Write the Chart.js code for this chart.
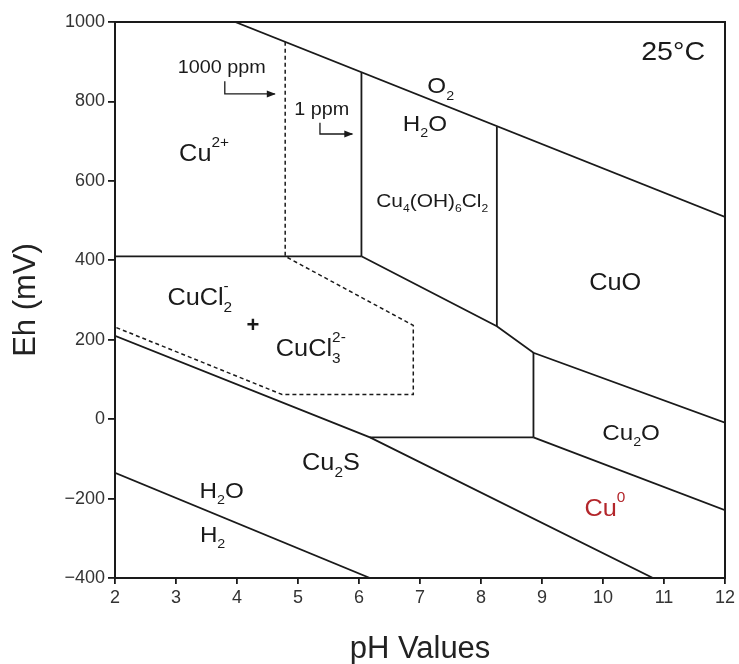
<!DOCTYPE html>
<html>
<head>
<meta charset="utf-8">
<script src="https://cdn.jsdelivr.net/npm/chart.js@4.4.0/dist/chart.umd.min.js"></script>
<style>
  html, body { margin: 0; padding: 0; background: #fff; }
  #wrap { width: 739px; height: 664px; }
</style>
</head>
<body>
<div id="wrap"><canvas id="pourbaix"></canvas></div>
<script>
// Eh-pH diagram, copper at 25 C. Points are [pH, Eh (mV)]

// water stability limits
const o2Line = [[3.97, 1000], [12, 509]];
const h2Line = [[2, -135], [6.18, -400]];

// solid phase boundaries
const cu2Boundary = [[2, 410], [6.04, 410]];
const atacamiteLeft = [[6.04, 410], [6.04, 873]];
const atacamiteRight = [[8.26, 736], [8.26, 234]];
const oxideBoundary = [[6.04, 410], [8.26, 234], [8.86, 167], [12, -9]];
const cu2oLeft = [[8.86, 167], [8.86, -46]];
const sulfideTop = [[6.18, -46], [8.86, -46]];
const cu0Top = [[8.86, -46], [12, -229]];
const sulfideUpper = [[2, 210], [6.18, -46], [10.82, -400]];

// 1000 ppm chloride field (dashed)
const chloride1000 = [[4.79, 950], [4.79, 410], [6.89, 236], [6.89, 62], [4.74, 62], [2, 232]];

// arrows for the concentration notes
const arrow1000 = [[3.80, 851], [3.80, 819], [4.62, 819]];
const arrow1 = [[5.36, 746], [5.36, 718], [5.89, 718]];

// field labels: text, pH, Eh
const fieldLabels = [
  ['1000 ppm', 3.75, 887, 18],
  ['1 ppm', 5.39, 783, 18],
  ['Cu^{2+}', 3.46, 670, 23],
  ['O_2', 7.34, 841, 22],
  ['H_2O', 7.08, 746, 22],
  ['Cu_4(OH)_6Cl_2', 7.20, 552, 19],
  ['25°C', 11.15, 927, 26],
  ['CuO', 10.2, 345, 23],
  ['CuCl_2^-', 3.39, 308, 23],
  ['CuCl_3^{2-}', 5.21, 179, 23],
  ['Cu_2O', 10.46, -32, 22],
  ['Cu_2S', 5.54, -108, 23],
  ['Cu^0', 10.03, -224, 23, '#b3262b'],
  ['H_2O', 3.75, -178, 22],
  ['H_2', 3.6, -289, 22]
];

const xTicks = [2, 3, 4, 5, 6, 7, 8, 9, 10, 11, 12];
const yTicks = [-400, -200, 0, 200, 400, 600, 800, 1000];

const FONT = '"Liberation Sans", Arial, Helvetica, sans-serif';
const INK = '#1a1a1a';

function toPoints(arr) {
  return arr.map(p => ({ x: p[0], y: p[1] }));
}

function lineSet(arr, dashed) {
  return {
    data: toPoints(arr),
    showLine: true,
    borderColor: INK,
    borderWidth: dashed ? 1.5 : 1.8,
    borderDash: dashed ? [4, 3] : [],
    pointRadius: 0,
    fill: false,
    tension: 0
  };
}

// tiny markup: _x subscript, ^x superscript, {..} groups
function parseRich(str) {
  const segs = [];
  let i = 0, buf = '';
  while (i < str.length) {
    const c = str[i];
    if (c === '_' || c === '^') {
      if (buf) { segs.push({ t: buf, k: 'n' }); buf = ''; }
      let tok;
      if (str[i + 1] === '{') {
        const end = str.indexOf('}', i + 2);
        tok = str.slice(i + 2, end);
        i = end + 1;
      } else {
        tok = str[i + 1];
        i += 2;
      }
      segs.push({ t: tok, k: c === '_' ? 'sub' : 'sup' });
    } else {
      buf += c;
      i++;
    }
  }
  if (buf) segs.push({ t: buf, k: 'n' });
  return segs;
}

function drawRich(ctx, str, cx, cy, size, color) {
  const stretch = 1.1;
  const small = Math.round(size * 0.6);
  const segs = parseRich(str);
  const placed = [];
  let x = 0, prevStart = 0, prev = null;
  segs.forEach(s => {
    const fs = s.k === 'n' ? size : small;
    ctx.font = fs + 'px ' + FONT;
    const w = ctx.measureText(s.t).width;
    if (prev && prev.k !== 'n' && s.k !== 'n' && prev.k !== s.k) {
      // stack sub and sup over each other
      placed.push({ t: s.t, k: s.k, x: prevStart, fs: fs });
      x = Math.max(x, prevStart + w);
    } else {
      placed.push({ t: s.t, k: s.k, x: x, fs: fs });
      prevStart = x;
      x += w;
    }
    prev = s;
  });
  ctx.save();
  ctx.translate(cx - x * stretch / 2, cy);
  ctx.scale(stretch, 1);
  ctx.fillStyle = color || INK;
  ctx.textBaseline = 'alphabetic';
  ctx.textAlign = 'left';
  const base = size * 0.36;
  placed.forEach(p => {
    ctx.font = p.fs + 'px ' + FONT;
    let y = base;
    if (p.k === 'sub') y = base + size * 0.3;
    if (p.k === 'sup') y = base - size * 0.62;
    ctx.fillText(p.t, p.x, y);
  });
  ctx.restore();
}

function drawArrow(ctx, xs, ys, pts) {
  const px = pts.map(p => [xs.getPixelForValue(p[0]), ys.getPixelForValue(p[1])]);
  ctx.save();
  ctx.strokeStyle = INK;
  ctx.fillStyle = INK;
  ctx.lineWidth = 1.3;
  ctx.beginPath();
  ctx.moveTo(px[0][0], px[0][1]);
  for (let i = 1; i < px.length; i++) ctx.lineTo(px[i][0], px[i][1]);
  ctx.stroke();
  const a = px[px.length - 2], b = px[px.length - 1];
  const ang = Math.atan2(b[1] - a[1], b[0] - a[0]);
  ctx.translate(b[0], b[1]);
  ctx.rotate(ang);
  ctx.beginPath();
  ctx.moveTo(1, 0);
  ctx.lineTo(-8, -3.5);
  ctx.lineTo(-8, 3.5);
  ctx.closePath();
  ctx.fill();
  ctx.restore();
}

const annotations = {
  id: 'annotations',
  afterDraw(chart) {
    const ctx = chart.ctx;
    const xs = chart.scales.x, ys = chart.scales.y;
    const area = chart.chartArea;
    // frame around the plot
    ctx.save();
    ctx.strokeStyle = INK;
    ctx.lineWidth = 2;
    ctx.strokeRect(area.left, area.top, area.right - area.left, area.bottom - area.top);
    ctx.restore();

    drawArrow(ctx, xs, ys, arrow1000);
    drawArrow(ctx, xs, ys, arrow1);

    fieldLabels.forEach(l => {
      drawRich(ctx, l[0], xs.getPixelForValue(l[1]), ys.getPixelForValue(l[2]), l[3], l[4]);
    });

    // the "+" between the two chloro complexes
    ctx.save();
    ctx.font = 'bold 22px ' + FONT;
    ctx.fillStyle = INK;
    ctx.textAlign = 'center';
    ctx.textBaseline = 'middle';
    ctx.fillText('+', xs.getPixelForValue(4.26), ys.getPixelForValue(235));
    ctx.restore();
  }
};

const ctx = document.getElementById('pourbaix').getContext('2d');
new Chart(ctx, {
  type: 'scatter',
  data: {
    datasets: [
      lineSet(o2Line),
      lineSet(h2Line),
      lineSet(cu2Boundary),
      lineSet(atacamiteLeft),
      lineSet(atacamiteRight),
      lineSet(oxideBoundary),
      lineSet(cu2oLeft),
      lineSet(sulfideTop),
      lineSet(cu0Top),
      lineSet(sulfideUpper),
      lineSet(chloride1000, true)
    ]
  },
  options: {
    responsive: true,
    maintainAspectRatio: false,
    animation: false,
    layout: { padding: { top: 22, right: 14, left: 0, bottom: 0 } },
    plugins: { legend: { display: false }, tooltip: { enabled: false } },
    scales: {
      x: {
        type: 'linear',
        min: 2,
        max: 12,
        afterBuildTicks: s => { s.ticks = xTicks.map(v => ({ value: v })); },
        afterFit: s => { s.height = 86; },
        ticks: { font: { family: FONT, size: 18 }, color: '#333', padding: 3 },
        grid: { drawOnChartArea: false, drawTicks: true, tickLength: 6, color: INK, lineWidth: 1.8 },
        border: { display: true, color: INK, width: 2 },
        title: {
          display: true,
          text: 'pH Values',
          color: '#222',
          font: { family: FONT, size: 31, lineHeight: 1 },
          padding: { top: 0, bottom: -1 }
        }
      },
      y: {
        type: 'linear',
        min: -400,
        max: 1000,
        afterBuildTicks: s => { s.ticks = yTicks.map(v => ({ value: v })); },
        afterFit: s => { s.width = 115; },
        ticks: {
          font: { family: FONT, size: 18 },
          color: '#333',
          padding: 3,
          callback: v => v < 0 ? '\u2212' + Math.abs(v) : String(v)
        },
        grid: { drawOnChartArea: false, drawTicks: true, tickLength: 7, color: INK, lineWidth: 1.8 },
        border: { display: true, color: INK, width: 2 },
        title: {
          display: true,
          text: 'Eh (mV)',
          color: '#222',
          font: { family: FONT, size: 31, lineHeight: 1 },
          padding: { top: 11, bottom: 0 }
        }
      }
    }
  },
  plugins: [annotations]
});
</script>
</body>
</html>
